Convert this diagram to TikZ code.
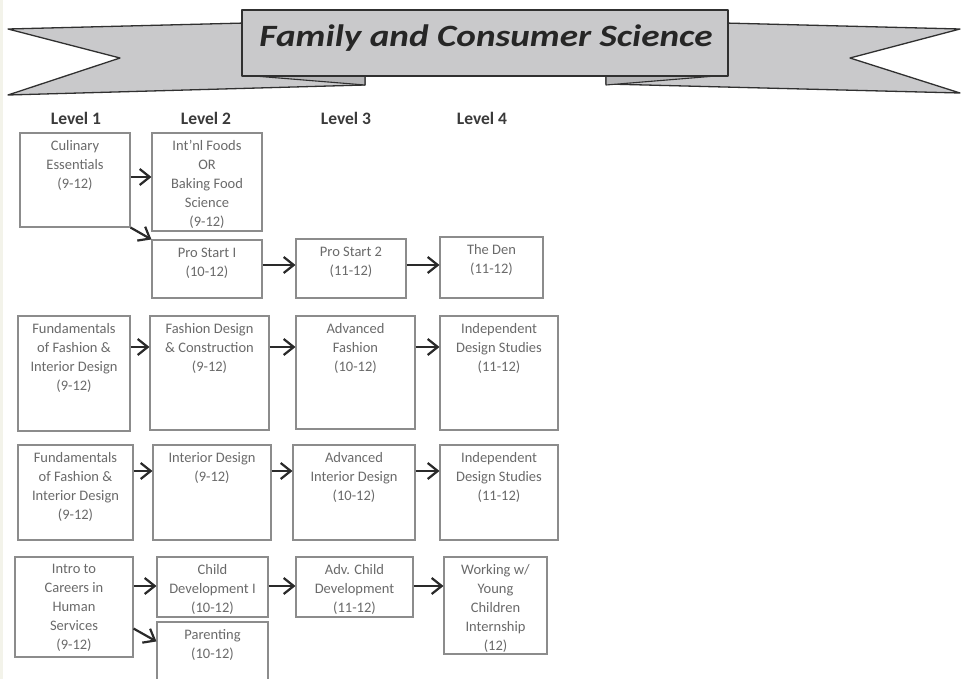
\documentclass[tikz,border=0pt]{standalone}
\usepackage{fontspec}
\usepackage{graphicx}
\setmainfont{Carlito}
\usetikzlibrary{arrows.meta,fit}
\definecolor{boxline}{HTML}{8C8C8C}
\definecolor{boxtxt}{HTML}{6A6A6A}
\definecolor{headc}{HTML}{3A3A3A}
\definecolor{arrowc}{HTML}{2A2A2A}
\definecolor{ribbonfill}{HTML}{C9C9CB}
\definecolor{foldfill}{HTML}{B5B5B7}
\definecolor{ribbonline}{HTML}{303030}
\definecolor{stripc}{HTML}{F3F3EA}
\newcommand{\mkbox}[6]{%
  \path (#2,#3) coordinate (#1-nw) (#4,#5) coordinate (#1-se);
  \node[cbox, fit=(#1-nw)(#1-se)] (#1) {};
  \node[boxtext, anchor=north] (#1-t) at ([yshift=-8pt]#1.north) {#6};
}
\begin{document}
\begin{tikzpicture}[x=1pt,y=-1pt,
  cbox/.style={draw=boxline, line width=1.1pt, inner sep=0pt},
  boxtext/.style={text=boxtxt, inner sep=0pt, align=center,
    font=\fontsize{14.5}{19}\selectfont},
  levelhead/.style={text=headc, inner sep=0pt, anchor=base,
    font=\fontsize{17.5}{20}\selectfont\bfseries},
  conn/.style={draw=arrowc, line width=2.2pt,
    -{Straight Barb[length=10pt,width=16pt]}},
  ribbon/.style={fill=ribbonfill, draw=ribbonline, line width=1.3pt, line join=round},
  fold/.style={fill=foldfill, draw=ribbonline, line width=1.1pt, line join=round}]
\clip (0,0) rectangle (962,679);
\useasboundingbox (0,0) rectangle (962,679);
\fill[white] (0,0) rectangle (962,679);
\fill[stripc] (0,0) rectangle (3,679);

% banner
\draw[ribbon] (8,29) -- (365,20) -- (365,85) -- (8,95) -- (120,58) -- cycle;
\draw[ribbon] (960,29) -- (606,20) -- (606,84) -- (960,93) -- (850,58) -- cycle;
\draw[fold] (242,75) -- (365,75) -- (365,85) -- cycle;
\draw[fold] (728,75) -- (606,75) -- (606,85) -- cycle;
\draw[ribbon] (242,10) rectangle (728,76);
\node[inner sep=0pt, anchor=base, text=black!85] (title) at (486,47)
  {\scalebox{1.2}[1]{\fontsize{31}{31}\selectfont\bfseries\itshape Family and Consumer Science}};

% level headers
\node[levelhead] (lv1) at (76,125) {Level 1};
\node[levelhead] (lv2) at (206,125) {Level 2};
\node[levelhead] (lv3) at (346,125) {Level 3};
\node[levelhead] (lv4) at (482,125) {Level 4};

% row 1
\mkbox{cul}{20}{133}{130}{227}{Culinary\\Essentials\\(9-12)}
\mkbox{intl}{152}{133}{262}{231}{Int’nl Foods\\OR\\Baking Food\\Science\\(9-12)}
\mkbox{pro1}{152}{240}{262}{298}{Pro Start I\\(10-12)}
\mkbox{pro2}{296}{239}{406}{298}{Pro Start 2\\(11-12)}
\mkbox{den}{440}{237}{543}{298}{The Den\\(11-12)}

% row 2
\mkbox{funda}{18}{316}{130}{431}{Fundamentals\\of Fashion \&\\Interior Design\\(9-12)}
\mkbox{fash}{150}{316}{269}{430}{Fashion Design\\\& Construction\\(9-12)}
\mkbox{advf}{296}{316}{415}{429}{Advanced\\Fashion\\(10-12)}
\mkbox{inda}{440}{316}{558}{430}{Independent\\Design Studies\\(11-12)}

% row 3
\mkbox{fundb}{18}{445}{133}{540}{Fundamentals\\of Fashion \&\\Interior Design\\(9-12)}
\mkbox{intd}{153}{445}{271}{540}{Interior Design\\(9-12)}
\mkbox{advi}{293}{445}{415}{540}{Advanced\\Interior Design\\(10-12)}
\mkbox{indb}{440}{445}{558}{540}{Independent\\Design Studies\\(11-12)}

% row 4
\mkbox{intro}{15}{557}{133}{657}{Intro to\\Careers in\\Human\\Services\\(9-12)}
\mkbox{child}{157}{557}{268}{617}{Child\\Development I\\(10-12)}
\mkbox{par}{157}{622}{268}{700}{Parenting\\(10-12)}
\mkbox{advc}{296}{557}{413}{617}{Adv. Child\\Development\\(11-12)}
\mkbox{work}{444}{557}{547}{654}{Working w/\\Young\\Children\\Internship\\(12)}

% arrow rows
\coordinate (ya) at (0,177);
\coordinate (yb) at (0,265);
\coordinate (yc) at (0,347);
\coordinate (yd) at (0,471);
\coordinate (ye) at (0,586);

\draw[conn] (cul.east |- ya) -- (intl.west |- ya);
\draw[conn] (cul.south east) -- (pro1.north west);
\draw[conn] (pro1.east |- yb) -- (pro2.west |- yb);
\draw[conn] (pro2.east |- yb) -- (den.west |- yb);

\draw[conn] (funda.east |- yc) -- (fash.west |- yc);
\draw[conn] (fash.east |- yc) -- (advf.west |- yc);
\draw[conn] (advf.east |- yc) -- (inda.west |- yc);

\draw[conn] (fundb.east |- yd) -- (intd.west |- yd);
\draw[conn] (intd.east |- yd) -- (advi.west |- yd);
\draw[conn] (advi.east |- yd) -- (indb.west |- yd);

\draw[conn] (intro.east |- ye) -- (child.west |- ye);
\draw[conn] ([yshift=29pt]intro.south east) -- ([yshift=-20pt]par.north west);
\draw[conn] (child.east |- ye) -- (advc.west |- ye);
\draw[conn] (advc.east |- ye) -- (work.west |- ye);
\end{tikzpicture}
\end{document}
